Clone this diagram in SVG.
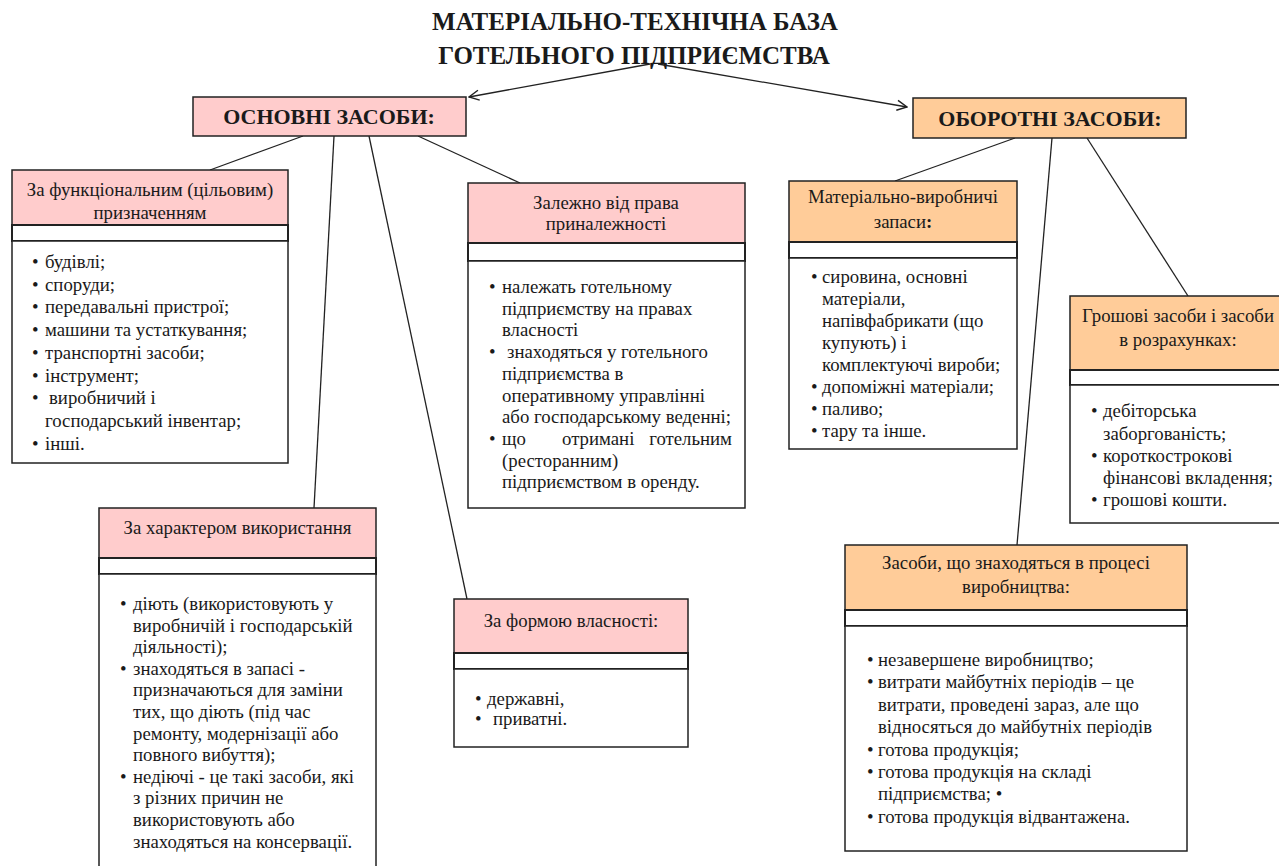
<svg xmlns="http://www.w3.org/2000/svg" width="1279" height="866" viewBox="0 0 1279 866">
<defs>
<style>
text{font-family:"Liberation Serif","Times New Roman",serif;fill:#1a1a1a;}
.title{font-size:25px;font-weight:bold;text-anchor:middle;}
.main{font-size:22px;font-weight:bold;text-anchor:middle;}
.hd{font-size:18.8px;text-anchor:middle;}
.bd{font-size:18.8px;}
.pink{fill:#ffcccc;stroke:#222;stroke-width:1.5;}
.peach{fill:#ffcc99;stroke:#222;stroke-width:1.5;}
.strip{fill:#fff;stroke:#222;stroke-width:2;}
.body{fill:#fff;stroke:#222;stroke-width:1.5;}
.con{stroke:#222;stroke-width:1.3;fill:none;}
</style>
<marker id="arr" viewBox="0 0 12 12" refX="11" refY="6" markerWidth="12" markerHeight="12" markerUnits="userSpaceOnUse" orient="auto">
<path d="M1,1 L11,6 L1,11" fill="none" stroke="#222" stroke-width="1.4"/>
</marker>
</defs>
<rect width="1279" height="866" fill="#fff"/>

<g id="title">
<text class="title" x="635" y="30">МАТЕРІАЛЬНО-ТЕХНІЧНА БАЗА</text>
<text class="title" x="634" y="64">ГОТЕЛЬНОГО ПІДПРИЄМСТВА</text>
</g>

<g id="connectors">
<line class="con" x1="650" y1="64" x2="469" y2="97" marker-end="url(#arr)"/>
<line class="con" x1="658" y1="64" x2="907" y2="107" marker-end="url(#arr)"/>
<line class="con" x1="303" y1="136" x2="210" y2="170"/>
<line class="con" x1="334" y1="136" x2="314" y2="508"/>
<line class="con" x1="369" y1="136" x2="467" y2="599"/>
<line class="con" x1="418" y1="136" x2="520" y2="183"/>
<line class="con" x1="1015" y1="138" x2="895" y2="181"/>
<line class="con" x1="1052" y1="138" x2="1017" y2="545"/>
<line class="con" x1="1087" y1="138" x2="1188" y2="296"/>
</g>

<g id="osnovni">
<rect class="pink" x="193" y="97" width="273" height="39"/>
<text class="main" x="329" y="124">ОСНОВНІ ЗАСОБИ:</text>
</g>

<g id="oborotni">
<rect class="peach" x="913" y="98" width="273" height="40"/>
<text class="main" x="1050" y="126">ОБОРОТНІ ЗАСОБИ:</text>
</g>

<g id="funkts">
<rect class="pink" x="12" y="170" width="276" height="55"/>
<rect class="strip" x="12" y="225" width="276" height="16"/>
<rect class="body" x="12" y="241" width="276" height="222"/>
<text class="hd" x="150" y="196">За функціональним (цільовим)</text>
<text class="hd" x="150" y="219">призначенням</text>
<g class="bd">
<text x="32" y="268">•</text><text x="45" y="268">будівлі;</text>
<text x="32" y="290.7">•</text><text x="45" y="290.7">споруди;</text>
<text x="32" y="313.4">•</text><text x="45" y="313.4">передавальні пристрої;</text>
<text x="32" y="336">•</text><text x="45" y="336">машини та устаткування;</text>
<text x="32" y="358.8">•</text><text x="45" y="358.8">транспортні засоби;</text>
<text x="32" y="381.5">•</text><text x="45" y="381.5">інструмент;</text>
<text x="32" y="404.2">•</text><text x="49" y="404.2">виробничий і</text>
<text x="45" y="427">господарський інвентар;</text>
<text x="32" y="449.6">•</text><text x="45" y="449.6">інші.</text>
</g>
</g>

<g id="zalezhno">
<rect class="pink" x="468" y="183" width="277" height="60"/>
<rect class="strip" x="468" y="243" width="277" height="18"/>
<rect class="body" x="468" y="261" width="277" height="247"/>
<text class="hd" x="606" y="209">Залежно від права</text>
<text class="hd" x="606" y="230">приналежності</text>
<g class="bd">
<text x="489" y="293">•</text><text x="502" y="293">належать готельному</text>
<text x="502" y="314.7">підприємству на правах</text>
<text x="502" y="336.4">власності</text>
<text x="489" y="358.1">•</text><text x="507" y="358.1">знаходяться у готельного</text>
<text x="502" y="379.8">підприємства в</text>
<text x="502" y="401.5">оперативному управлінні</text>
<text x="502" y="423.2">або господарському веденні;</text>
<text x="489" y="444.9">•</text><text x="502" y="444.9">що</text><text x="562" y="444.9">отримані</text><text x="732" y="444.9" text-anchor="end">готельним</text>
<text x="502" y="466.6">(ресторанним)</text>
<text x="502" y="488.3">підприємством в оренду.</text>
</g>
</g>

<g id="harakter">
<rect class="pink" x="99" y="508" width="277" height="50"/>
<rect class="strip" x="99" y="558" width="277" height="16"/>
<rect class="body" x="99" y="574" width="277" height="300"/>
<text class="hd" x="237.5" y="534">За характером використання</text>
<g class="bd">
<text x="120" y="610">•</text><text x="133" y="610">діють (використовують у</text>
<text x="133" y="631.6">виробничій і господарській</text>
<text x="133" y="653.2">діяльності);</text>
<text x="120" y="674.8">•</text><text x="133" y="674.8">знаходяться в запасі -</text>
<text x="133" y="696.4">призначаються для заміни</text>
<text x="133" y="718">тих, що діють (під час</text>
<text x="133" y="739.6">ремонту, модернізації або</text>
<text x="133" y="761.2">повного вибуття);</text>
<text x="120" y="782.8">•</text><text x="133" y="782.8">недіючі - це такі засоби, які</text>
<text x="133" y="804.4">з різних причин не</text>
<text x="133" y="826">використовують або</text>
<text x="133" y="847.6">знаходяться на консервації.</text>
</g>
</g>

<g id="forma">
<rect class="pink" x="454" y="599" width="234" height="54"/>
<rect class="strip" x="454" y="653" width="234" height="16"/>
<rect class="body" x="454" y="669" width="234" height="78"/>
<text class="hd" x="571" y="627">За формою власності:</text>
<g class="bd">
<text x="475" y="705">•</text><text x="487" y="705">державні,</text>
<text x="475" y="725">•</text><text x="493" y="725">приватні.</text>
</g>
</g>

<g id="materialni">
<rect class="peach" x="789" y="181" width="228" height="61"/>
<rect class="strip" x="789" y="242" width="228" height="16"/>
<rect class="body" x="789" y="258" width="228" height="191"/>
<text class="hd" x="903" y="203">Матеріально-виробничі</text>
<text class="hd" x="903" y="228">запаси<tspan font-weight="bold">:</tspan></text>
<g class="bd">
<text x="811" y="283">•</text><text x="822" y="283">сировина, основні</text>
<text x="822" y="305">матеріали,</text>
<text x="822" y="327">напівфабрикати (що</text>
<text x="822" y="349">купують) і</text>
<text x="822" y="371">комплектуючі вироби;</text>
<text x="811" y="393">•</text><text x="822" y="393">допоміжні матеріали;</text>
<text x="811" y="415">•</text><text x="822" y="415">паливо;</text>
<text x="811" y="437">•</text><text x="822" y="437">тару та інше.</text>
</g>
</g>

<g id="groshovi">
<rect class="peach" x="1070" y="296" width="220" height="74"/>
<rect class="strip" x="1070" y="370" width="220" height="15"/>
<rect class="body" x="1070" y="385" width="220" height="138"/>
<text class="hd" x="1178" y="322">Грошові засоби і засоби</text>
<text class="hd" x="1178" y="346">в розрахунках:</text>
<g class="bd">
<text x="1091" y="417">•</text><text x="1103" y="417">дебіторська</text>
<text x="1103" y="439.5">заборгованість;</text>
<text x="1091" y="462">•</text><text x="1103" y="462">короткострокові</text>
<text x="1103" y="484">фінансові вкладення;</text>
<text x="1091" y="506">•</text><text x="1103" y="506">грошові кошти.</text>
</g>
</g>

<g id="proces">
<rect class="peach" x="845" y="545" width="342" height="65"/>
<rect class="strip" x="845" y="610" width="342" height="16"/>
<rect class="body" x="845" y="626" width="342" height="225"/>
<text class="hd" x="1016" y="569">Засоби, що знаходяться в процесі</text>
<text class="hd" x="1016" y="593">виробництва:</text>
<g class="bd">
<text x="867" y="666">•</text><text x="878" y="666">незавершене виробництво;</text>
<text x="867" y="688.4">•</text><text x="878" y="688.4">витрати майбутніх періодів – це</text>
<text x="878" y="710.8">витрати, проведені зараз, але що</text>
<text x="878" y="733.2">відносяться до майбутніх періодів</text>
<text x="867" y="755.6">•</text><text x="878" y="755.6">готова продукція;</text>
<text x="867" y="778">•</text><text x="878" y="778">готова продукція на складі</text>
<text x="878" y="800.4">підприємства; •</text>
<text x="867" y="822.8">•</text><text x="878" y="822.8">готова продукція відвантажена.</text>
</g>
</g>
</svg>
